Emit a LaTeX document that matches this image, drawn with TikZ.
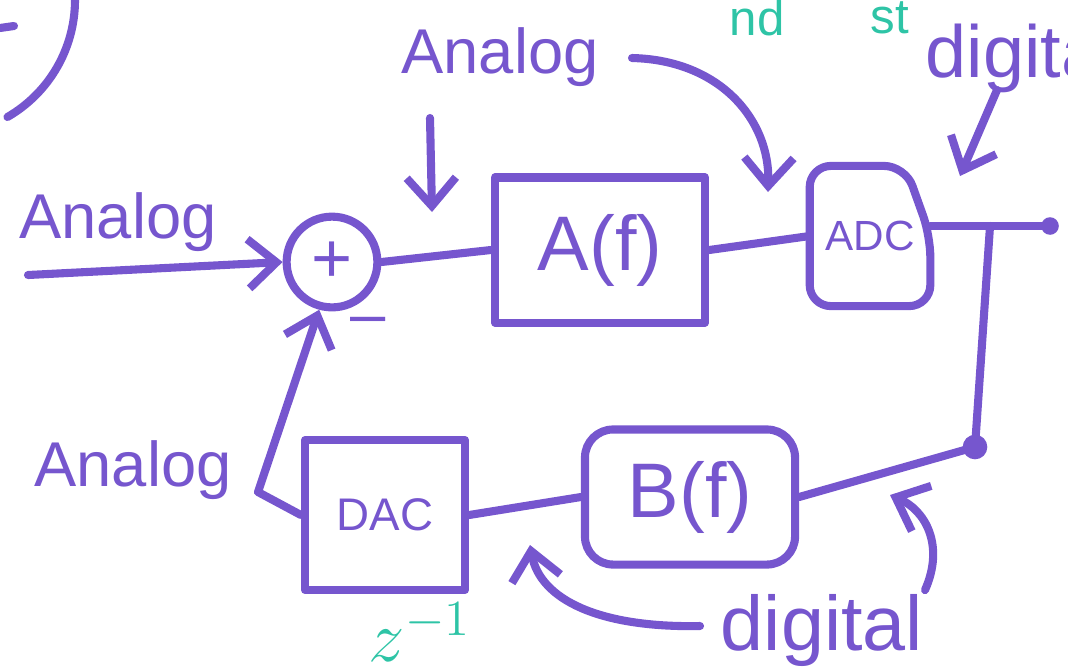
\documentclass[tikz,border=0pt]{standalone}
\usepackage{xcolor}
\usepackage{fontspec}
\setmainfont{Liberation Sans}
\usepackage{tikz}
\usetikzlibrary{arrows.meta}

\definecolor{sketchpurple}{RGB}{118,86,206}
\definecolor{sketchteal}{RGB}{46,196,166}

\begin{document}
\begin{tikzpicture}[x=0.01cm, y=-0.01cm, color=sketchpurple, line width=2.3pt,
  line cap=round, line join=round,
  blk/.style={draw, minimum width=2.1cm, minimum height=1.45cm, font=\fontsize{22}{26}\selectfont},
  lbl/.style={font=\fontsize{18}{22}\selectfont, inner sep=1pt},
  tip/.style={-{Straight Barb[length=8pt, width=14pt]}},
  dot/.style={circle, fill, inner sep=0pt, minimum size=7pt},
  note/.style={color=sketchteal, font=\fontsize{14}{16}\selectfont, inner sep=0pt}]
\useasboundingbox (0,0) rectangle (1068,669);
\clip (0,0) rectangle (1068,669);

% left-over pieces at the edges
\draw (75,0) arc[start angle=0, end angle=-60, radius=1.35cm];
\draw (0,28) -- (14,26);
\node[note] (second) at (757,18) {nd};
\node[note] (first) at (890,18) {st};
\node[note, font=\fontsize{20}{24}\selectfont] (delay) at (420,632) {$z^{-1}$};

% blocks
\node[draw, circle, minimum size=0.86cm, font=\fontsize{20}{24}\selectfont] (sum) at (332,262) {+};
\node[lbl] (minus) at (368,326) {--};
\node[blk] (af) at (600,250) {A(f)};
\node[minimum width=1.1cm, minimum height=1.32cm, font=\fontsize{12}{14}\selectfont] (adc) at (870,236) {ADC};
\draw[rounded corners=6pt] (adc.north west) -- ([xshift=-0.25cm]adc.north east) -- (adc.east)
  -- (adc.south east) -- (adc.south west) -- cycle;
\node[blk, minimum height=1.35cm, rounded corners=8pt] (bf) at (690,497) {B(f)};
\node[blk, minimum width=1.6cm, minimum height=1.5cm, font=\fontsize{13}{15}\selectfont] (dac) at (385,515) {DAC};

% signal path
\coordinate (in) at (28,275);
\coordinate (out) at (1050,226);
\coordinate (split) at (990,226);
\coordinate (jn) at (975,447);
\coordinate (bend) at (258,492);
\draw[tip] (in) -- (sum.west);
\draw (sum.east) -- (af.west);
\draw (af.east) -- (adc.west);
\draw (adc.east |- out) -- (out);
\draw (split) -- (jn) -- (bf.east);
\draw (bf.west) -- (dac.east);
\draw[tip] (dac.west) -- (bend) -- (sum.-105);
\node[dot] (jdot) at (jn) {};
\node[dot, minimum size=5pt] (odot) at (out) {};

% labels
\node[lbl] (anin) at (118,222) {Analog};
\node[lbl] (antop) at (500,57) {Analog};
\node[lbl] (anfb) at (133,470) {Analog};
\node[lbl, font=\fontsize{21}{25}\selectfont, anchor=west] (digtop) at (918,58) {digital};
\node[lbl, font=\fontsize{22}{26}\selectfont] (digbot) at (822,630) {digital};

% pointers from the labels
\coordinate (a1) at (430,118);
\coordinate (a1t) at (432,212);
\coordinate (a2) at (632,58);
\coordinate (a2t) at (768,192);
\coordinate (d1) at (997,90);
\coordinate (d1t) at (960,176);
\coordinate (d2) at (700,626);
\coordinate (d2t) at (530,545);
\coordinate (d3) at (925,590);
\coordinate (d3t) at (890,495);
\draw[tip] (a1) -- (a1t);
\draw[tip] (a2) .. controls (720,60) and (770,120) .. (a2t);
\draw[tip] (d1) -- (d1t);
\draw[tip] (d2) .. controls (600,628) and (540,600) .. (d2t);
\draw[tip] (d3) .. controls (945,545) and (925,510) .. (d3t);
\end{tikzpicture}
\end{document}
